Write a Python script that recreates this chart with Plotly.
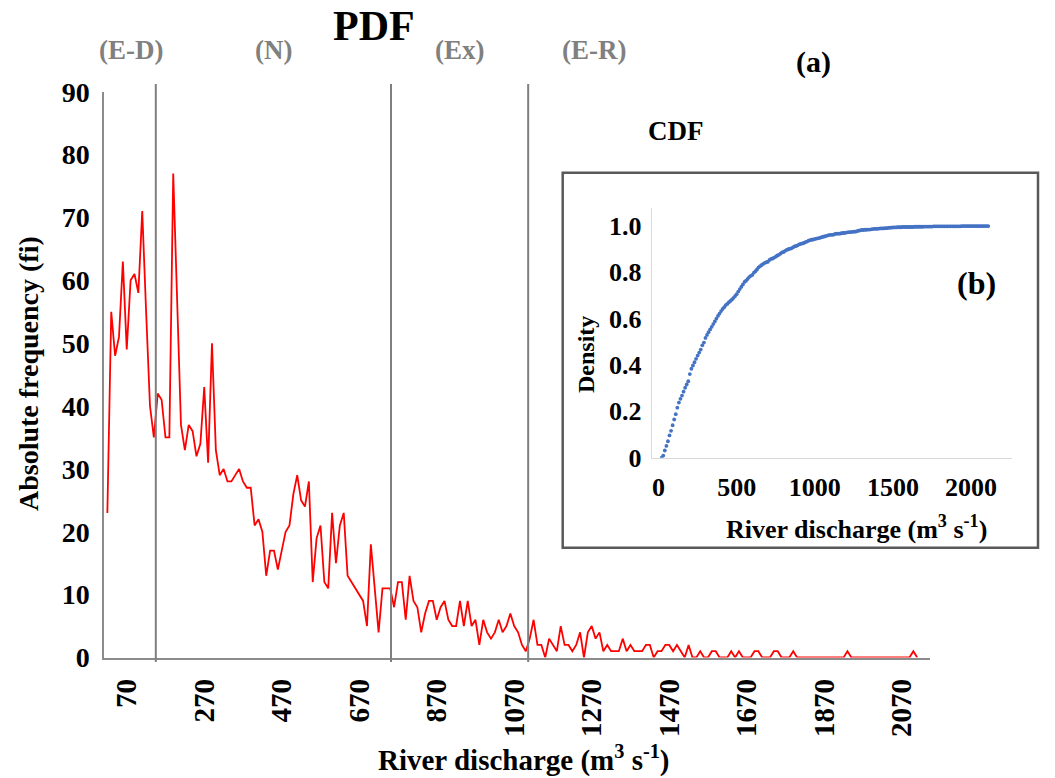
import plotly.graph_objects as go

# ---------------- data ----------------
bin_start = 20
bin_width = 10
pdf_counts = [
    23, 55, 48, 51, 63, 49, 60, 61, 58, 71,
    55, 40, 35, 42, 41, 35, 35, 77, 57, 37,
    33, 37, 36, 32, 34, 43, 31, 50, 33, 29,
    30, 28, 28, 29, 30, 28, 27, 27, 21, 22,
    20, 13, 17, 17, 14, 17, 20, 21, 26, 29,
    25, 24, 28, 12, 19, 21, 12, 11, 23, 15,
    21, 23, 13, 12, 11, 10, 9, 5, 18, 11,
    4, 11, 11, 11, 8, 12, 12, 6, 13, 9,
    8, 4, 7, 9, 9, 6, 8, 9, 6, 5,
    5, 9, 5, 9, 5, 6, 2, 6, 4, 3,
    4, 6, 4, 5, 7, 5, 4, 2, 1, 3,
    6, 2, 2, 0, 3, 2, 1, 5, 2, 2,
    1, 2, 4, 0, 4, 5, 3, 4, 1, 2,
    1, 1, 1, 3, 1, 2, 1, 1, 1, 2,
    2, 0, 1, 1, 2, 2, 1, 2, 1, 0,
    2, 0, 0, 1, 0, 0, 1, 1, 0, 0,
    0, 1, 0, 1, 0, 0, 0, 1, 1, 0,
    0, 0, 1, 1, 0, 0, 0, 1, 0, 0,
    0, 0, 0, 0, 0, 0, 0, 0, 0, 0,
    0, 1, 0, 0, 0, 0, 0, 0, 0, 0,
    0, 0, 0, 0, 0, 0, 0, 0, 1, 0,
]
cdf_values = [
    0.000, 0.009, 0.031, 0.051, 0.071, 0.096, 0.116, 0.140, 0.165, 0.188,
    0.216, 0.238, 0.254, 0.268, 0.285, 0.302, 0.316, 0.330, 0.361, 0.384,
    0.398, 0.412, 0.427, 0.441, 0.454, 0.467, 0.485, 0.497, 0.517, 0.530,
    0.542, 0.554, 0.565, 0.577, 0.588, 0.600, 0.612, 0.622, 0.633, 0.642,
    0.650, 0.659, 0.664, 0.671, 0.677, 0.683, 0.690, 0.698, 0.706, 0.717,
    0.728, 0.738, 0.748, 0.759, 0.764, 0.772, 0.780, 0.785, 0.789, 0.799,
    0.805, 0.813, 0.822, 0.827, 0.832, 0.837, 0.841, 0.844, 0.846, 0.854,
    0.858, 0.860, 0.864, 0.868, 0.873, 0.876, 0.881, 0.886, 0.888, 0.893,
    0.897, 0.900, 0.902, 0.904, 0.908, 0.912, 0.914, 0.917, 0.921, 0.923,
    0.925, 0.927, 0.931, 0.933, 0.937, 0.939, 0.941, 0.942, 0.944, 0.946,
    0.947, 0.949, 0.951, 0.953, 0.955, 0.957, 0.959, 0.961, 0.962, 0.962,
    0.963, 0.966, 0.967, 0.967, 0.967, 0.969, 0.970, 0.970, 0.972, 0.973,
    0.974, 0.974, 0.975, 0.976, 0.976, 0.978, 0.980, 0.981, 0.983, 0.983,
    0.984, 0.984, 0.985, 0.985, 0.986, 0.987, 0.988, 0.988, 0.988, 0.989,
    0.990, 0.990, 0.990, 0.991, 0.991, 0.992, 0.993, 0.993, 0.994, 0.994,
    0.994, 0.995, 0.995, 0.995, 0.996, 0.996, 0.996, 0.996, 0.996, 0.996,
    0.996, 0.996, 0.997, 0.997, 0.997, 0.997, 0.997, 0.997, 0.998, 0.998,
    0.998, 0.998, 0.998, 0.998, 0.999, 0.999, 0.999, 0.999, 0.999, 0.999,
    0.999, 0.999, 0.999, 0.999, 0.999, 0.999, 0.999, 0.999, 0.999, 0.999,
    0.999, 0.999, 1.000, 1.000, 1.000, 1.000, 1.000, 1.000, 1.000, 1.000,
    1.000, 1.000, 1.000, 1.000, 1.000, 1.000, 1.000, 1.000, 1.000, 1.000,
]
discharge = [bin_start + i * bin_width for i in range(len(pdf_counts))]

thresholds = [145, 752, 1106]
zone_labels = ["(E-D)", "(N)", "(Ex)", "(E-R)"]
x_ticks = [70, 270, 470, 670, 870, 1070, 1270, 1470, 1670, 1870, 2070]
y_ticks = [0, 10, 20, 30, 40, 50, 60, 70, 80, 90]
cdf_x_ticks = [0, 500, 1000, 1500, 2000]
cdf_y_ticks = [0, 0.2, 0.4, 0.6, 0.8, 1.0]
cdf_y_labels = ["0", "0.2", "0.4", "0.6", "0.8", "1.0"]

# ---------------- layout helpers ----------------
W, H = 1055, 778
FONT = "Liberation Serif"


def px(x):
    return x / W


def py(y):
    return 1 - y / H


def bold(size, color="black"):
    return dict(family=FONT, size=size, color=color, weight="bold")


fig = go.Figure()
fig.add_trace(go.Scatter(
    x=discharge, y=pdf_counts, mode="lines",
    line=dict(color="#FF0000", width=1.8),
    xaxis="x", yaxis="y", hoverinfo="skip"))
fig.add_trace(go.Scatter(
    x=discharge, y=cdf_values, mode="markers",
    marker=dict(color="#4472C4", size=3.8, line=dict(width=0)),
    xaxis="x2", yaxis="y2", hoverinfo="skip"))

axis_gray = "#8c8c8c"
fig.update_layout(
    width=W, height=H, autosize=False,
    margin=dict(l=0, r=0, t=0, b=0, pad=0),
    paper_bgcolor="white", plot_bgcolor="white",
    showlegend=False,
    xaxis=dict(
        domain=[px(104.3), px(930)], range=[12.1, 2143], anchor="y",
        tickmode="array", tickvals=x_ticks, ticktext=[str(t) for t in x_ticks],
        tickangle=-90, tickfont=bold(29), ticks="", ticklabelstandoff=8,
        showline=True, linecolor=axis_gray, linewidth=2, automargin=False,
        showgrid=False, zeroline=False),
    yaxis=dict(
        domain=[py(657.5), py(91.7)], range=[0, 90], anchor="x",
        tickmode="array", tickvals=y_ticks, tickfont=bold(28), ticks="",
        ticklabelstandoff=7, automargin=False,
        showline=True, linecolor=axis_gray, linewidth=2,
        showgrid=False, zeroline=False),
    xaxis2=dict(
        domain=[px(651.7), px(1011.7)], range=[-44, 2260], anchor="y2",
        tickmode="array", tickvals=cdf_x_ticks, tickfont=bold(26), ticks="",
        ticklabelstandoff=6, automargin=False,
        showline=True, linecolor="#d9d9d9", linewidth=1,
        showgrid=False, zeroline=False),
    yaxis2=dict(
        domain=[py(457.7), py(208)], range=[0, 1.078], anchor="x2",
        tickmode="array", tickvals=cdf_y_ticks, ticktext=cdf_y_labels,
        tickfont=bold(26), ticks="", ticklabelstandoff=4, automargin=False,
        showline=True, linecolor="#d9d9d9", linewidth=1,
        showgrid=False, zeroline=False),
)

shapes = []
for t in thresholds:
    shapes.append(dict(type="line", xref="x", yref="paper", x0=t, x1=t,
                       y0=py(662), y1=py(84),
                       line=dict(color="#7f7f7f", width=2), layer="above"))
shapes.append(dict(type="rect", xref="paper", yref="paper",
                   x0=px(562.7), x1=px(1038), y0=py(547.7), y1=py(172.7),
                   line=dict(color="#595959", width=2.5), layer="above"))
fig.update_layout(shapes=shapes)

zone_x = [81, 450, 930, 1276]
ann = []
for lab, zx in zip(zone_labels, zone_x):
    ann.append(dict(text=lab, x=zx, xref="x", y=py(50), yref="paper",
                    showarrow=False, font=bold(27, "#808080"),
                    xanchor="center", yanchor="middle"))
ann += [
    dict(text="PDF", x=px(374), y=py(26), font=bold(42)),
    dict(text="(a)", x=px(813), y=py(62), font=bold(30)),
    dict(text="CDF", x=px(676), y=py(131), font=bold(27)),
    dict(text="(b)", x=px(976), y=py(283), font=bold(32)),
    dict(text="River discharge (m<sup>3</sup> s<sup>-1</sup>)",
         x=px(524), y=py(758), font=bold(29)),
    dict(text="Absolute frequency (fi)", x=px(28), y=py(374),
         font=bold(28), textangle=-90),
    dict(text="Density", x=px(586), y=py(355), font=bold(24), textangle=-90),
    dict(text="River discharge (m<sup>3</sup> s<sup>-1</sup>)",
         x=px(856), y=py(527), font=bold(26)),
]
for a in ann[len(zone_labels):]:
    a.update(xref="paper", yref="paper", showarrow=False,
             xanchor="center", yanchor="middle")
fig.update_layout(annotations=ann)

fig.write_html("out.html", config={"displayModeBar": False})
